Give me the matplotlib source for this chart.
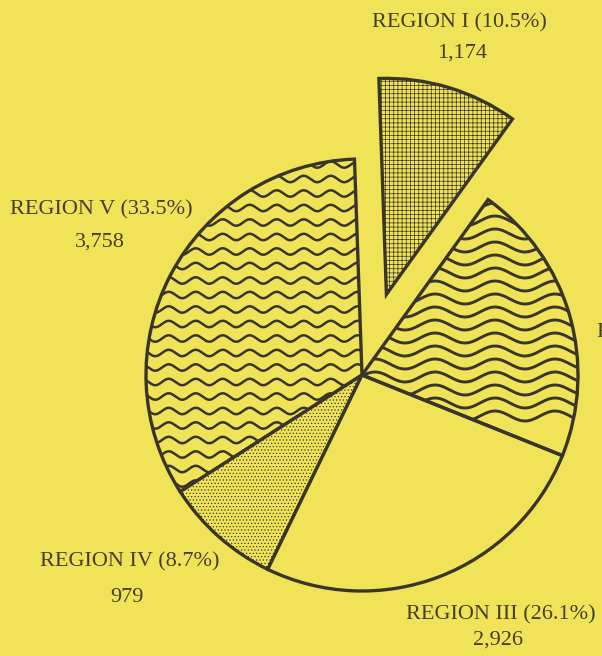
import numpy as np
import matplotlib
matplotlib.use("Agg")
import matplotlib.pyplot as plt

# data (pie order: counter-clockwise from the top)
regions = ["REGION V", "REGION IV", "REGION III", "REGION II", "REGION I"]
counts = [3758, 979, 2926, 2373, 1174]
percents = ["33.5", "8.7", "26.1", "21.2", "10.5"]

# layout (pixel coords, origin top-left)
W, H = 602, 656
CENTER = (362, 375)
RADIUS = 216
explode_frac = [0, 0, 0, 0, 0.39]
label_pos = [(101, 210), (130, 562), (501, 615), (597, 333), (459, 23)]
value_pos = [(100, 242), (127, 597), (498, 640), (690, 363), (462, 53)]
label_ha = ["center", "center", "center", "left", "center"]

BG = "#f1e358"
INK = "#3a352b"
TXT = "#463f2e"

plt.rcParams["hatch.linewidth"] = 0.5


def py(y):
    return H - y


def add_waves(ax, wedge, x0, x1, y0, y1, spacing, wavelength, amp, lw):
    # wavy fill pattern, clipped to the wedge
    xs = np.linspace(x0, x1, 600)
    for y in np.arange(y0, y1, spacing):
        ys = py(y) + amp * np.sin(2 * np.pi * xs / wavelength)
        line, = ax.plot(xs, ys, color=INK, lw=lw, zorder=2,
                        solid_capstyle="round")
        line.set_clip_path(wedge)


fig = plt.figure(figsize=(W / 100, H / 100), dpi=100)
fig.patch.set_facecolor(BG)
ax = fig.add_axes([0, 0, 1, 1])
ax.set_facecolor(BG)

# pie() takes explode in data units when radius != 1
explode = [f * RADIUS for f in explode_frac]
wedges, _ = ax.pie(counts, startangle=92, counterclock=True, radius=RADIUS,
                   center=(CENTER[0], py(CENTER[1])), explode=explode,
                   wedgeprops=dict(edgecolor=INK, linewidth=2.4, facecolor=BG))
ax.set_xlim(0, W)
ax.set_ylim(0, H)
ax.axis("off")

for w in wedges:
    w.set_zorder(3)

# Region V: small waves
wedges[0].set_facecolor("none")
add_waves(ax, wedges[0], 130, 370, 150, 520, 14.5, 27, 3.2, 1.8)
# Region IV: stipple
wedges[1].set_hatch(".....")
# Region II: big waves
wedges[3].set_facecolor("none")
add_waves(ax, wedges[3], 350, 600, 195, 420, 13, 60, 5, 2.1)
# Region I: dot grid
wedges[4].set_hatch("++++")

for i, name in enumerate(regions):
    ax.text(label_pos[i][0], py(label_pos[i][1]), f"{name} ({percents[i]}%)",
            ha=label_ha[i], va="center", fontsize=16, color=TXT,
            family="Liberation Serif")
    ax.text(value_pos[i][0], py(value_pos[i][1]), f"{counts[i]:,}",
            ha="center", va="center", fontsize=16, color=TXT,
            family="Liberation Serif")

fig.savefig("out.png", dpi=100, facecolor=BG)
